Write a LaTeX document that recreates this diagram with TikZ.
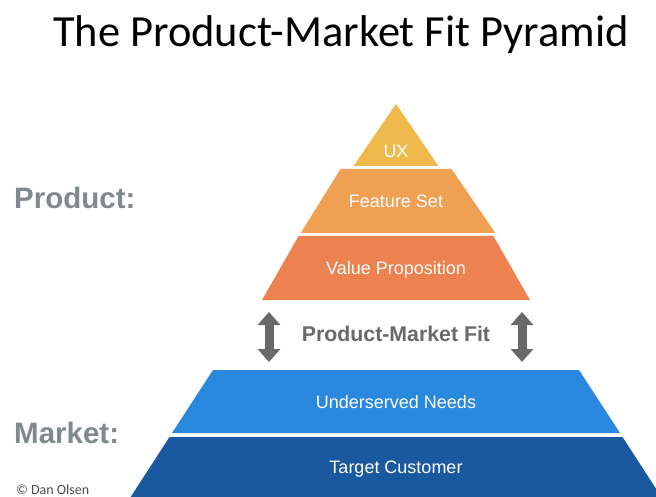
\documentclass[tikz,border=0pt]{standalone}
\usepackage{fontspec}
\setmainfont{Liberation Sans}
\newfontfamily\titlefont{Carlito}
\usetikzlibrary{arrows.meta}
\definecolor{uxc}{RGB}{240,185,75}
\definecolor{fsc}{RGB}{239,160,82}
\definecolor{vpc}{RGB}{236,130,80}
\definecolor{unc}{RGB}{42,136,222}
\definecolor{tcc}{RGB}{26,88,160}
\definecolor{lblc}{RGB}{128,138,140}
\definecolor{arrc}{RGB}{105,105,105}
\tikzset{
  bandtext/.style={text=white, font=\fontsize{18}{21}\selectfont, inner sep=0pt},
  sidelabel/.style={text=lblc, font=\bfseries\fontsize{29.5}{34}\selectfont, anchor=west, inner sep=0pt},
  fitarrow/.style={draw=arrc, line width=9pt, {Triangle[width=22pt,length=13pt]}-{Triangle[width=22pt,length=13pt]}}
}
\begin{document}
\begin{tikzpicture}[x=1pt,y=-1pt]
\useasboundingbox (0,0) rectangle (656,497);
\fill[white] (0,0) rectangle (656,497);
% top pyramid (slope 134/196)
\fill[uxc] (396,104) -- (438.4,166) -- (353.6,166) -- cycle;
\fill[fsc] (340.5,169) -- (451.5,169) -- (495.3,233) -- (300.7,233) -- cycle;
\fill[vpc] (298.6,236) -- (493.4,236) -- (530,300) -- (262,300) -- cycle;
% bottom trapezoid
\fill[unc] (213,370) -- (579,370) -- (620,433) -- (172,433) -- cycle;
\begin{scope}
\clip (0,0) rectangle (656,497);
\fill[tcc] (169.5,437) -- (622.5,437) -- (662,498) -- (130,498) -- cycle;
\end{scope}
% band labels
\node[bandtext] (ux) at (396,151) {UX};
\node[bandtext] (fs) at (396,201) {Feature Set};
\node[bandtext] (vp) at (396,270) {Value Proposition};
\node[bandtext] (un) at (396,402) {Underserved Needs};
\node[bandtext] (tc) at (396,469) {Target Customer};
% side labels
\node[sidelabel] (prod) at (14,198) {Product:};
\node[sidelabel] (mkt) at (14,433) {Market:};
% title
\node[font=\titlefont\fontsize{44.5}{50}\selectfont, inner sep=0pt] (title) at (341,35) {The Product-Market Fit Pyramid};
% fit label and arrows
\node[text=arrc, font=\bfseries\fontsize{21.3}{24}\selectfont, inner sep=0pt] (pmf) at (396,334) {Product-Market Fit};
\coordinate (la) at (269,312);
\coordinate (lb) at (269,362);
\coordinate (ra) at (522,312);
\coordinate (rb) at (522,362);
\draw[fitarrow] (la) -- (lb);
\draw[fitarrow] (ra) -- (rb);
% copyright
\node[text=black!70, font=\titlefont\fontsize{14}{16}\selectfont, anchor=west, inner sep=0pt] (copy) at (16,490) {© Dan Olsen};
\end{tikzpicture}
\end{document}
